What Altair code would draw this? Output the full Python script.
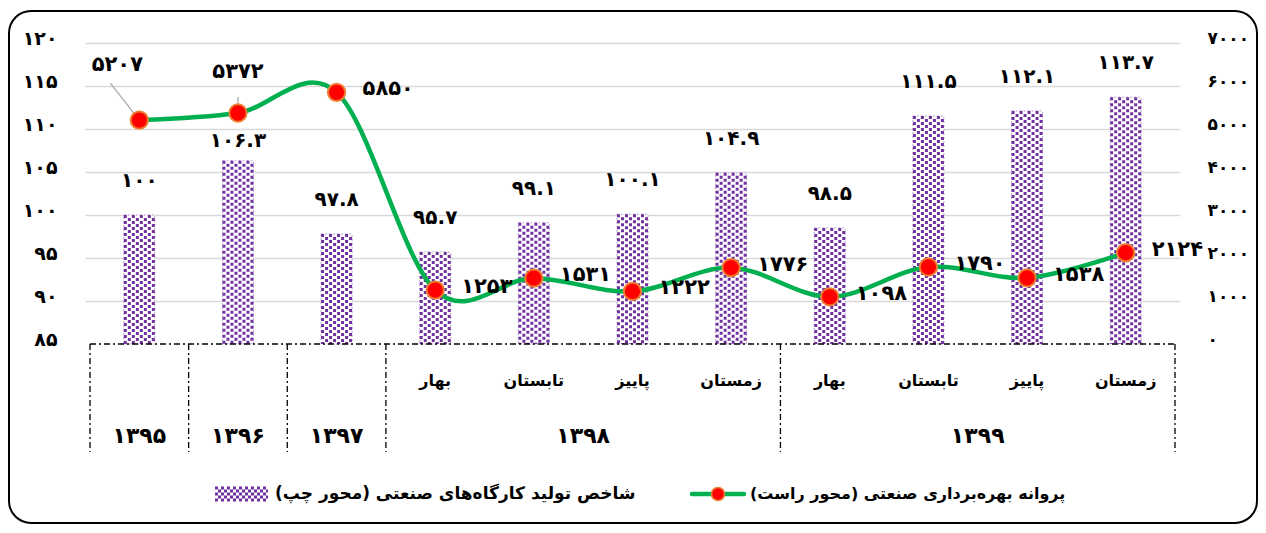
import altair as alt
import pandas as pd

FA = str.maketrans("0123456789", "۰۱۲۳۴۵۶۷۸۹")


def fa(v):
    return str(v).translate(FA)


# ---------------- data ----------------
idx = list(range(11))
bar_vals = [100, 106.3, 97.8, 95.7, 99.1, 100.1, 104.9, 98.5, 111.5, 112.1, 113.7]
line_vals = [5207, 5372, 5850, 1253, 1531, 1222, 1776, 1098, 1790, 1538, 2124]
season_names = ["", "", "", "بهار", "تابستان", "پاییز", "زمستان",
                "بهار", "تابستان", "پاییز", "زمستان"]
year_names = ["1395", "1396", "1397", "1398", "1399"]
year_start = [0, 1, 2, 3, 7]
year_end = [0, 1, 2, 6, 10]
left_ticks = [85, 90, 95, 100, 105, 110, 115, 120]
right_ticks = [0, 1000, 2000, 3000, 4000, 5000, 6000, 7000]
bar_series_name = "\u200fشاخص تولید کارگاه\u200cهای صنعتی (محور چپ)\u200f"
line_series_name = "\u200fپروانه بهره\u200cبرداری صنعتی (محور راست)\u200f"

df = pd.DataFrame({
    "i": idx,
    "bar": bar_vals,
    "line": line_vals,
    "bar_lbl": [fa(f"{v:g}") for v in bar_vals],
    "line_lbl": [fa(v) for v in line_vals],
    "season": season_names,
})
df_year = pd.DataFrame({"year": [fa(y) for y in year_names],
                        "s": year_start, "e": year_end})
df_sep = pd.DataFrame({"b": [s - 0.5 for s in year_start] + [year_end[-1] + 0.5]})
df_span = pd.DataFrame({"lo": [year_start[0] - 0.5], "hi": [year_end[-1] + 0.5]})
one = pd.DataFrame({"k": [0]})

W, H = 1095, 301
FONT = "DejaVu Sans"
PURPLE = "#7030A0"
GREEN = "#00B050"


def lookup_expr(ticks):
    expr = "''"
    for t in reversed(ticks):
        expr = f"datum.value == {t} ? '{fa(t)}' : ({expr})"
    return expr


XS = alt.Scale(domain=[-0.5, 10.5], nice=False, zero=False)
x = alt.X("i:Q", scale=XS, axis=None)
yL = alt.Y("bar:Q",
           scale=alt.Scale(domain=[85, 120], nice=False, zero=False),
           axis=alt.Axis(values=left_ticks, title=None, grid=True, gridColor="#d9d9d9",
                         gridWidth=1.5,
                         gridOpacity={"condition": {"test": "datum.value == 85", "value": 0}, "value": 1},
                         domain=False, ticks=False, labelPadding=28,
                         labelExpr=lookup_expr(left_ticks), labelFont=FONT,
                         labelFontSize=19, labelFontWeight="bold", labelColor="#000",
                         labelOffset=-5))
yR = alt.Y("line:Q",
           scale=alt.Scale(domain=[0, 7000], nice=False, zero=True),
           axis=alt.Axis(orient="right", values=right_ticks, title=None, grid=False,
                         domain=False, ticks=False, labelPadding=27,
                         labelExpr=lookup_expr(right_ticks), labelFont=FONT,
                         labelFontSize=17, labelFontWeight="bold", labelColor="#000",
                         labelOffset=-5))

base = alt.Chart(df)

# ---- bars (left axis) ----
bar_layers = [
    base.mark_bar(size=31, fill="#ffffff", stroke="#b9a3d6", strokeWidth=1,
                  strokeDash=[2, 2]).encode(x=x, y=yL, y2=alt.datum(85)),
]
for k in range(8):
    bar_layers.append(
        base.mark_rule(color=PURPLE, strokeWidth=3, strokeDash=[3, 3],
                       strokeDashOffset=3 * (k % 2), xOffset=-14 + 4 * k)
        .encode(x=x, y=yL, y2=alt.datum(85))
    )
bar_layers.append(
    base.transform_filter("datum.i != 1").mark_text(
        font=FONT, fontSize=20, fontWeight="bold", color="#000", dy=-34, baseline="middle")
    .encode(x=x, y=yL, text="bar_lbl:N")
)
bar_layers.append(
    base.transform_filter("datum.i == 1").mark_text(
        font=FONT, fontSize=20, fontWeight="bold", color="#000", dy=-20, baseline="middle")
    .encode(x=x, y=yL, text="bar_lbl:N")
)
bars = alt.layer(*bar_layers)

# ---- line (right axis) ----
line_layers = [
    base.mark_line(color=GREEN, strokeWidth=4.5, interpolate="cardinal").encode(x=x, y=yR),
    base.transform_filter("datum.i == 0").mark_rule(color="#a6a6a6", strokeWidth=1.2,
                                                      x2Offset=-29, y2Offset=-37)
    .encode(x=x, y=yR, x2="i:Q", y2="line:Q"),
    base.transform_filter("datum.i == 1").mark_rule(color="#a6a6a6", strokeWidth=1.2,
                                                      y2Offset=-16)
    .encode(x=x, y=yR, x2="i:Q", y2="line:Q"),
    base.mark_point(filled=True, fill="#FF0000", stroke="#ED7D31", strokeWidth=2,
                    size=300, opacity=1, shape="circle").encode(x=x, y=yR),
    base.transform_filter("datum.i == 0").mark_text(
        font=FONT, fontSize=21, fontWeight="bold", color="#000", dx=-22, dy=-55)
    .encode(x=x, y=yR, text="line_lbl:N"),
    base.transform_filter("datum.i == 1").mark_text(
        font=FONT, fontSize=21, fontWeight="bold", color="#000", dy=-41)
    .encode(x=x, y=yR, text="line_lbl:N"),
    base.transform_filter("datum.i >= 2").mark_text(
        font=FONT, fontSize=21, fontWeight="bold", color="#000", align="left", dx=26, dy=-3)
    .encode(x=x, y=yR, text="line_lbl:N"),
]
lines = alt.layer(*line_layers)

# ---- category table below the plot ----
DASH = [6, 3, 2, 3]
table_layers = [
    alt.Chart(df_span).mark_rule(color="#000", strokeWidth=1.3, strokeDash=DASH)
    .encode(x=alt.X("lo:Q", scale=XS, axis=None), x2="hi:Q", y=alt.value(H)),
    alt.Chart(df_sep).mark_rule(color="#000", strokeWidth=1.3, strokeDash=DASH)
    .encode(x=alt.X("b:Q", scale=XS, axis=None), y=alt.value(H), y2=alt.value(H + 108)),
    base.mark_text(font=FONT, fontSize=16, fontWeight="bold", color="#000", baseline="middle")
    .encode(x=x, y=alt.value(H + 37), text="season:N"),
    alt.Chart(df_year).transform_calculate(mid="(datum.s + datum.e) / 2")
    .mark_text(font=FONT, fontSize=22, fontWeight="bold", color="#000", baseline="middle")
    .encode(x=alt.X("mid:Q", scale=XS, axis=None), y=alt.value(H + 92), text="year:N"),
]

# ---- legend ----
LY = H + 150
oc = alt.Chart(one)
legend_layers = []
for r in range(5):
    legend_layers.append(
        oc.mark_rule(color=PURPLE, strokeWidth=3, strokeDash=[3, 3], strokeDashOffset=3 * (r % 2))
        .encode(x=alt.value(130), x2=alt.value(183), y=alt.value(LY - 6 + 3 * r))
    )
legend_layers += [
    oc.mark_text(font=FONT, fontSize=17, fontWeight="bold", color="#000", align="left",
                 baseline="middle")
    .encode(x=alt.value(190), y=alt.value(LY), text=alt.value(bar_series_name)),
    oc.mark_rule(color=GREEN, strokeWidth=4.5, strokeCap="round")
    .encode(x=alt.value(607), x2=alt.value(659), y=alt.value(LY)),
    oc.mark_point(filled=True, fill="#FF0000", stroke="#ED7D31", strokeWidth=1.5, size=170,
                  opacity=1, shape="circle")
    .encode(x=alt.value(633), y=alt.value(LY)),
    oc.mark_text(font=FONT, fontSize=16, fontWeight="bold", color="#000", align="left",
                 baseline="middle")
    .encode(x=alt.value(665), y=alt.value(LY), text=alt.value(line_series_name)),
    # rounded frame around the whole chart
    oc.mark_rect(fill="transparent", stroke="#000", strokeWidth=2, cornerRadius=22)
    .encode(x=alt.value(-76), x2=alt.value(1172), y=alt.value(-32), y2=alt.value(H + 179)),
]

chart = (
    alt.layer(bars, lines, *table_layers, *legend_layers)
    .resolve_scale(y="independent")
    .properties(
        width=W, height=H,
        padding={"left": 77, "top": 35, "right": 78, "bottom": 181},
        autosize=alt.AutoSizeParams(type="none"),
        background="#ffffff",
    )
    .configure_view(stroke=None)
)

chart.save("out.html", embed_options={"renderer": "svg", "actions": False})
